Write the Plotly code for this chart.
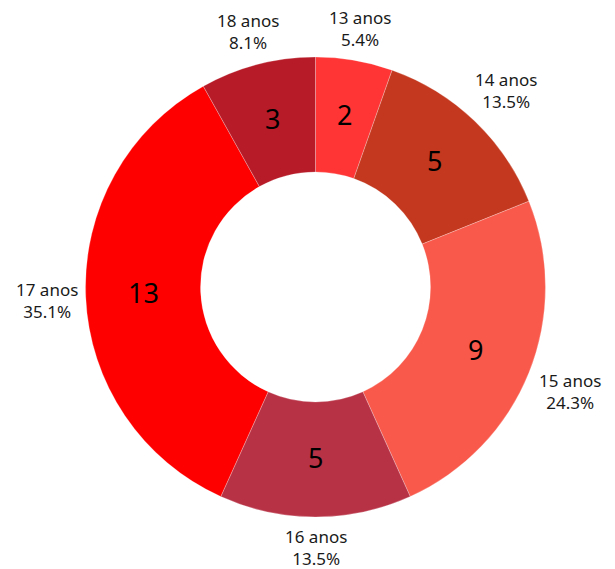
import math
import plotly.graph_objects as go

labels = ["13 anos", "14 anos", "15 anos", "16 anos", "17 anos", "18 anos"]
values = [2, 5, 9, 5, 13, 3]
colors = ["#FF3434", "#C3381E", "#F8594B", "#B83245", "#FF0000", "#B71B28"]

font_family = "Noto Sans, Open Sans, sans-serif"
W, H = 615, 569
dom = dict(x=[0.0, 1.0], y=[0.1055, 0.9139])
HOLE = 0.5

fig = go.Figure()
fig.add_trace(go.Pie(
    labels=labels, values=values, sort=False, direction="clockwise", rotation=0,
    hole=HOLE, domain=dom, automargin=False,
    marker=dict(colors=colors, line=dict(color="rgba(255,255,255,0.5)", width=0.5)),
    textinfo="none", showlegend=False, hoverinfo="skip",
))

# geometry of the pie as plotly lays it out (margins are zero)
cx = W * (dom["x"][0] + dom["x"][1]) / 2
cy = H * (1 - (dom["y"][0] + dom["y"][1]) / 2)
R = min(W * (dom["x"][1] - dom["x"][0]), H * (dom["y"][1] - dom["y"][0])) / 2
r_mid = R * (1 + HOLE) / 2
half_w, half_h, gap = 32, 23, 6
out_dy, in_dy = 2, -2  # small vertical text nudges (pixels, downward positive)

total = sum(values)
cum = 0
annotations = []
for lab, v in zip(labels, values):
    theta = 2 * math.pi * (cum + v / 2) / total
    cum += v
    ux, uy = math.sin(theta), -math.cos(theta)
    # value inside the ring
    px, py = cx + r_mid * ux, cy + r_mid * uy + in_dy
    annotations.append(dict(
        x=px / W, y=1 - py / H, xref="paper", yref="paper",
        text=str(v), showarrow=False, xanchor="center", yanchor="middle",
        font=dict(size=27, color="#000000", family=font_family),
    ))
    # category + percent outside
    d = R + gap + abs(ux) * half_w + abs(uy) * half_h
    px, py = cx + d * ux, cy + d * uy + out_dy
    annotations.append(dict(
        x=px / W, y=1 - py / H, xref="paper", yref="paper",
        text=f"{lab}<br>{100 * v / total:.1f}%", showarrow=False,
        xanchor="center", yanchor="middle", align="center",
        font=dict(size=17, color="#1a1a1a", family=font_family),
    ))

fig.update_layout(
    width=W, height=H,
    margin=dict(l=0, r=0, t=0, b=0, autoexpand=False),
    paper_bgcolor="white", plot_bgcolor="white",
    font=dict(family=font_family),
    annotations=annotations,
)
fig.write_html("out.html")
